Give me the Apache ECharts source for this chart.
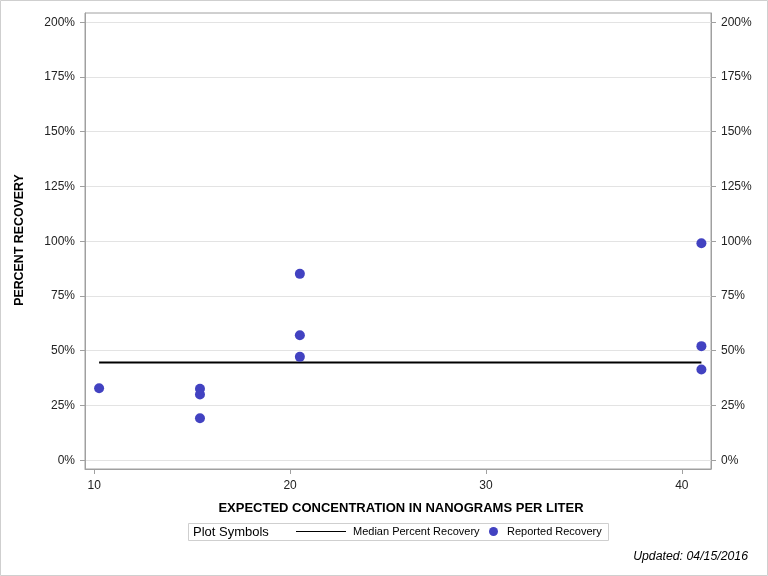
<!DOCTYPE html>
<html>
<head>
<meta charset="utf-8">
<script src="https://cdn.jsdelivr.net/npm/echarts@6/dist/echarts.min.js"></script>
<style>
  html, body { margin: 0; padding: 0; background: #fff; }
  #chart { width: 768px; height: 576px; }
</style>
</head>
<body>
<div id="chart"></div>
<script>
const xTicks = [10, 20, 30, 40];
const yTicks = [0, 25, 50, 75, 100, 125, 150, 175, 200];
const reportedX = [10.25, 15.4, 15.4, 15.4, 20.5, 20.5, 20.5, 41, 41, 41];
const reportedY = [32.9, 32.6, 30.0, 19.2, 85.1, 57.1, 47.2, 99.1, 52.1, 41.4];
const medianX = [10.25, 41];
const medianY = [44.6, 44.6];

const FONT = '"Liberation Sans", Arial, sans-serif';
const AXIS_GRAY = '#a0a0a0';

const chart = echarts.init(document.getElementById('chart'), null, { renderer: 'canvas' });

function yAxisDef(pos) {
  return {
    type: 'value',
    position: pos,
    min: -4,
    max: 204.2,
    axisLine: { show: true, onZero: false, lineStyle: { color: AXIS_GRAY, width: 1 } },
    axisTick: { show: true, length: 5, customValues: yTicks, lineStyle: { color: AXIS_GRAY } },
    axisLabel: {
      customValues: yTicks, margin: 10, fontSize: 12, color: '#222', fontFamily: FONT,
      formatter: v => v + '%'
    },
    splitLine: { show: pos === 'left', lineStyle: { color: '#e3e3e3', width: 1 } }
  };
}

const option = {
  animation: false,
  grid: {
    left: 85, top: 13, right: 57, bottom: 107,
    containLabel: false, outerBoundsMode: 'none',
    show: true, borderColor: AXIS_GRAY, borderWidth: 1, backgroundColor: 'transparent'
  },
  xAxis: {
    type: 'value',
    min: 9.53,
    max: 41.49,
    axisLine: { show: true, onZero: false, lineStyle: { color: AXIS_GRAY, width: 1 } },
    axisTick: { show: true, length: 5, customValues: xTicks, lineStyle: { color: AXIS_GRAY } },
    axisLabel: { customValues: xTicks, margin: 11, fontSize: 12, color: '#222', fontFamily: FONT },
    splitLine: { show: false }
  },
  yAxis: [yAxisDef('left'), yAxisDef('right')],
  legend: [
    {
      data: [{ name: 'Median Percent Recovery', icon: 'rect' }],
      left: 296, top: 526,
      itemWidth: 50, itemHeight: 1.2,
      itemGap: 0,
      textStyle: { fontSize: 11, color: '#000', fontFamily: FONT, padding: [0, 0, 0, 2] },
      padding: 0
    },
    {
      data: [{ name: 'Reported Recovery', icon: 'circle' }],
      left: 489, top: 526,
      itemWidth: 9, itemHeight: 9,
      textStyle: { fontSize: 11, color: '#000', fontFamily: FONT, padding: [0, 0, 0, 4] },
      padding: 0
    }
  ],
  graphic: [
    { type: 'rect', shape: { x: 0.5, y: 0.5, width: 767, height: 575 }, style: { fill: 'none', stroke: '#cfcfcf', lineWidth: 1 }, silent: true },
    { type: 'rect', shape: { x: 188.5, y: 523.5, width: 420, height: 17 }, style: { fill: 'none', stroke: '#cfcfcf', lineWidth: 1 }, silent: true },
    { type: 'text', x: 193, y: 532, style: { text: 'Plot Symbols', font: '13px ' + FONT, fill: '#000', verticalAlign: 'middle' }, silent: true },
    { type: 'text', x: 401, y: 508, style: { text: 'EXPECTED CONCENTRATION IN NANOGRAMS PER LITER', font: 'bold 13px ' + FONT, fill: '#000', align: 'center', verticalAlign: 'middle' }, silent: true },
    { type: 'text', x: 20, y: 240, rotation: Math.PI / 2, style: { text: 'PERCENT RECOVERY', font: 'bold 12.4px ' + FONT, fill: '#000', align: 'center', verticalAlign: 'middle' }, silent: true },
    { type: 'text', x: 748, y: 557, style: { text: 'Updated: 04/15/2016', font: 'italic 12.3px ' + FONT, fill: '#000', align: 'right', verticalAlign: 'middle' }, silent: true }
  ],
  series: [
    {
      name: 'Median Percent Recovery',
      type: 'line',
      data: medianX.map((x, i) => [x, medianY[i]]),
      symbol: 'none',
      lineStyle: { color: '#000', width: 2 },
      itemStyle: { color: '#000' },
      z: 3
    },
    {
      name: 'Reported Recovery',
      type: 'scatter',
      data: reportedX.map((x, i) => [x, reportedY[i]]),
      symbol: 'circle',
      symbolSize: 10,
      itemStyle: { color: '#4242C1', opacity: 1 },
      z: 4
    }
  ]
};

chart.setOption(option);
</script>
</body>
</html>
